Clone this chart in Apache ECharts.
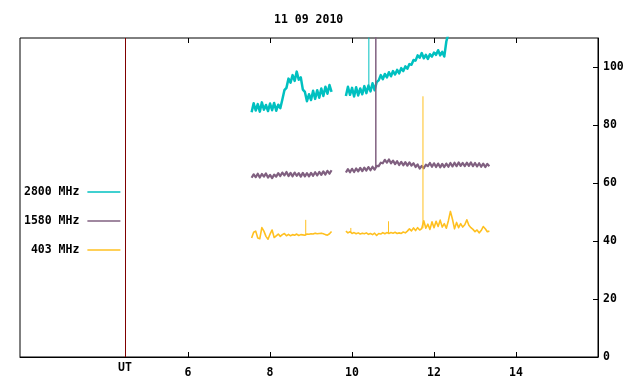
<!DOCTYPE html>
<html>
<head>
<meta charset="utf-8">
<title>11 09 2010</title>
<script src="https://cdn.jsdelivr.net/npm/echarts@6/dist/echarts.min.js"></script>
</head>
<body style="margin:0">
<div id="main" style="width:640px;height:384px;"></div>
<script>
var title = '11 09 2010';
var names = ['2800 MHz', '1580 MHz', '403 MHz'];
var colors = ['#00c0c0', '#806080', '#ffc020'];
var widths = [2.5, 2.2, 1.6];
var xTicks = [6, 8, 10, 12, 14];
var utHour = 4.46;
var yTicks = [0, 20, 40, 60, 80, 100];

// one sample every 0.05 h; first block starts 7.55 h, second 9.85 h
var step = 0.05, start1 = 7.55, start2 = 9.85;

var f2800a = [84.4, 87.5, 85.0, 87.2, 84.6, 87.8, 85.3, 86.9, 84.8, 87.4,
  85.1, 87.6, 84.9, 87.0, 85.8, 88.8, 92.0, 92.8, 96.0, 94.6,
  97.2, 95.2, 98.4, 95.6, 96.4, 92.2, 91.4, 88.2, 90.6, 88.6,
  91.8, 89.0, 92.0, 89.4, 92.6, 90.0, 93.2, 90.8, 93.8, 91.4];
var f2800b = [90.0, 93.2, 90.4, 92.8, 89.8, 93.0, 90.2, 92.6, 90.6, 93.4,
  91.0, 93.6, 91.6, 94.4, 92.0, 94.8, 95.4, 97.2, 95.8, 97.6,
  96.4, 98.2, 96.8, 98.6, 97.4, 99.0, 97.8, 99.6, 98.6, 100.2,
  99.4, 101.0, 100.8, 102.4, 102.2, 104.0, 103.2, 104.8, 103.0, 104.2,
  102.8, 104.4, 103.6, 105.0, 104.2, 105.8, 104.0, 105.2, 103.6, 108.8,
  111.5, 113.0, 114.5, 116.0];

var f1580a = [61.8, 63.0, 62.0, 63.2, 61.9, 63.1, 62.2, 63.3, 61.9, 62.8,
  61.7, 62.9, 62.2, 63.4, 62.4, 63.6, 62.6, 63.8, 62.4, 63.5,
  62.3, 63.6, 62.5, 63.4, 62.2, 63.5, 62.3, 63.4, 62.3, 63.5,
  62.5, 63.7, 62.6, 63.8, 62.8, 64.0, 62.9, 64.2, 63.2, 64.4];
var f1580b = [63.6, 64.8, 63.7, 64.9, 63.8, 65.0, 64.0, 65.2, 64.1, 65.3,
  64.3, 65.5, 64.4, 65.6, 64.6, 65.9, 65.8, 67.0, 66.8, 68.0,
  67.0, 68.1, 66.8, 67.7, 66.5, 67.5, 66.2, 67.3, 66.1, 67.2,
  66.0, 67.1, 66.0, 66.8, 65.5, 66.4, 65.0, 65.9, 65.1, 66.3,
  65.8, 66.9, 65.6, 66.8, 65.5, 66.7, 65.4, 66.6, 65.5, 66.7,
  65.6, 66.9, 65.7, 67.0, 65.8, 67.1, 65.9, 66.9, 65.8, 67.0,
  65.9, 67.1, 65.8, 66.9, 65.7, 66.8, 65.6, 66.7, 65.5, 66.6,
  65.8];

var f403a = [41.0, 43.0, 43.4, 41.0, 40.8, 44.6, 43.4, 41.6, 40.6, 42.4,
  43.8, 41.2, 41.8, 42.4, 41.6, 42.2, 42.6, 41.8, 42.3, 41.8,
  42.2, 42.0, 42.4, 41.9, 42.2, 42.1, 42.0, 42.4, 42.3, 42.5,
  42.4, 42.7, 42.5, 42.6, 42.7, 42.5, 42.2, 42.0, 42.5, 43.3];
var f403b = [43.4, 42.8, 43.2, 42.6, 42.9, 42.5, 42.8, 42.4, 42.7, 42.5,
  42.8, 42.3, 42.6, 42.2, 42.7, 41.9, 42.6, 42.4, 42.9, 42.5,
  42.9, 42.6, 42.9, 42.7, 43.0, 42.6, 42.8, 42.6, 43.1, 42.8,
  43.4, 44.2, 43.5, 44.5, 43.6, 44.6, 43.8, 44.3, 47.0, 44.4,
  45.8, 44.0, 46.6, 44.6, 46.8, 45.0, 47.2, 44.8, 46.0, 44.4,
  47.0, 50.2, 47.5, 44.2, 46.4, 44.6, 46.0, 44.8, 45.6, 47.3,
  45.4, 44.6, 44.0, 43.2, 43.8, 42.8, 43.6, 45.0, 44.2, 43.2,
  43.4];

// single-sample spikes: [series index, hour, from, to]
var spikes = [
  [0, 10.41, 93.5, 115],
  [1, 10.58, 65.6, 115],
  [2, 11.73, 44.4, 89.9],
  [2, 8.87, 42.1, 47.3],
  [2, 10.89, 42.7, 46.8],
  [2, 9.97, 42.8, 44.5]
];

var font = 'DejaVu Sans Mono';

function joinBlocks(a, b) {
  var d = [];
  a.forEach(function (v, i) { d.push([+(start1 + i * step).toFixed(2), v]); });
  d.push([9.7, '-']);
  b.forEach(function (v, i) { d.push([+(start2 + i * step).toFixed(2), v]); });
  return d;
}

var blocks = [[f2800a, f2800b], [f1580a, f1580b], [f403a, f403b]];
var series = blocks.map(function (b, k) {
  var s = {
    name: names[k],
    type: 'line',
    data: joinBlocks(b[0], b[1]),
    symbol: 'none',
    connectNulls: false,
    color: colors[k],
    lineStyle: { width: widths[k], color: colors[k], join: 'round' },
    z: 2 + k
  };
  if (k === 0) {
    s.markLine = {
      silent: true,
      symbol: ['none', 'none'],
      label: { show: false },
      lineStyle: { color: '#800000', width: 1, type: 'solid' },
      data: [{ xAxis: utHour }]
    };
  }
  return s;
});
spikes.forEach(function (sp) {
  series.push({
    type: 'line',
    data: [[sp[1], sp[2]], [sp[1], sp[3]]],
    symbol: 'none',
    lineStyle: { width: sp[0] === 1 ? 1.5 : 1, color: colors[sp[0]] },
    z: 2 + sp[0]
  });
});

var chart = echarts.init(document.getElementById('main'));
chart.setOption({
  animation: false,
  backgroundColor: '#fff',
  title: {
    text: title,
    left: 274,
    top: 14,
    padding: 0,
    textStyle: { fontFamily: font, fontSize: 11.5, fontWeight: 'bold', color: '#000' }
  },
  legend: {
    orient: 'vertical',
    left: 24,
    top: 186,
    padding: 0,
    align: 'right',
    icon: 'rect',
    itemWidth: 33,
    itemHeight: 1.6,
    itemGap: 17,
    selectedMode: false,
    data: names,
    formatter: function (n) { return n.padStart(8); },
    textStyle: { fontFamily: font, fontSize: 11.5, fontWeight: 'bold', color: '#000', padding: [0, 3, 0, 0] }
  },
  grid: {
    show: true,
    left: 20, right: 42, top: 38, bottom: 27,
    borderColor: '#000', borderWidth: 1
  },
  xAxis: [{
    type: 'value',
    min: 1.9, max: 16,
    axisLine: { show: true, lineStyle: { color: '#000' } },
    axisTick: { show: true, inside: true, length: 5, customValues: xTicks, lineStyle: { color: '#000' } },
    axisLabel: {
      customValues: [utHour].concat(xTicks),
      margin: 9,
      lineHeight: 14,
      fontFamily: font, fontSize: 11.5, fontWeight: 'bold', color: '#000',
      formatter: function (v) { return v < 5 ? '{u|UT}' : String(v); },
      rich: { u: { lineHeight: 4, fontFamily: font, fontSize: 11.5, fontWeight: 'bold', color: '#000' } }
    },
    splitLine: { show: false }
  }, {
    type: 'value',
    position: 'top',
    min: 1.9, max: 16,
    axisLine: { show: false },
    axisTick: { show: true, inside: true, length: 5, customValues: xTicks, lineStyle: { color: '#000' } },
    axisLabel: { show: false },
    splitLine: { show: false }
  }],
  yAxis: {
    type: 'value',
    position: 'right',
    min: 0, max: 110,
    axisLine: { show: true, lineStyle: { color: '#000' } },
    axisTick: { show: true, inside: true, length: 5, customValues: yTicks, lineStyle: { color: '#000' } },
    axisLabel: {
      customValues: yTicks,
      margin: 5,
      fontFamily: font, fontSize: 11.5, fontWeight: 'bold', color: '#000'
    },
    splitLine: { show: false }
  },
  series: series
});
</script>
</body>
</html>
